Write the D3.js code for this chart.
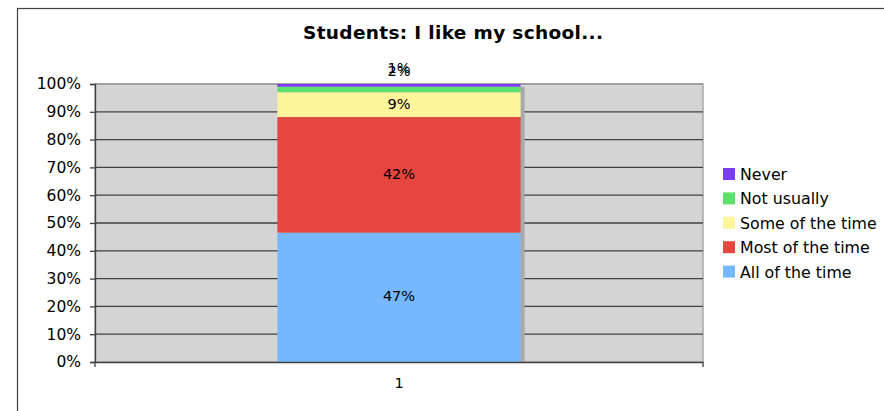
<!DOCTYPE html>
<html>
<head>
<meta charset="utf-8">
<script src="https://cdn.jsdelivr.net/npm/d3@7"></script>
<style>
  html, body { margin: 0; padding: 0; background: #fff; }
  svg { display: block; font-family: "DejaVu Sans", Verdana, sans-serif; }
</style>
</head>
<body>
<svg id="chart" width="884" height="411"></svg>
<script>
// Survey responses, one stacked 100% column
const categories = ["1"];
const seriesNames = ["All of the time", "Most of the time", "Some of the time", "Not usually", "Never"];
const seriesValues = [47, 42, 9, 2, 1];
const seriesColors = ["#75b8ff", "#e5463f", "#fdf59b", "#5de16a", "#7b3cf5"];
const yTicks = [0, 0.1, 0.2, 0.3, 0.4, 0.5, 0.6, 0.7, 0.8, 0.9, 1];

const svg = d3.select("#chart");

// outer chart frame
svg.append("rect")
  .attr("x", 17.5).attr("y", 8.5)
  .attr("width", 900).attr("height", 450)
  .attr("fill", "#fff").attr("stroke", "#404040").attr("stroke-width", 1.2);

svg.append("text")
  .attr("x", 453).attr("y", 39)
  .attr("text-anchor", "middle")
  .attr("font-size", 18.5).attr("font-weight", "bold")
  .attr("textLength", 300).attr("lengthAdjust", "spacing")
  .text("Students: I like my school...");

const plot = { left: 95, right: 703, top: 84, bottom: 362 };

const x = d3.scaleBand().domain(categories)
  .range([plot.left, plot.right]).paddingInner(0).paddingOuter(0.75);
const y = d3.scaleLinear().domain([0, 1]).range([plot.bottom, plot.top]);

// plot background
svg.append("rect")
  .attr("x", plot.left).attr("y", plot.top)
  .attr("width", plot.right - plot.left).attr("height", plot.bottom - plot.top)
  .attr("fill", "#d4d4d4").attr("stroke", "#a8a8a8").attr("stroke-width", 1.5);

// horizontal gridlines
svg.append("g").selectAll("line")
  .data(yTicks.slice(1))
  .join("line")
  .attr("x1", plot.left).attr("x2", plot.right)
  .attr("y1", d => y(d)).attr("y2", d => y(d))
  .attr("stroke", d => d === 1 ? "#9a9a9a" : "#404040").attr("stroke-width", 1.3);

// stacked, normalised data
const row = {};
seriesNames.forEach((n, i) => row[n] = seriesValues[i]);
const stack = d3.stack().keys(seriesNames).offset(d3.stackOffsetExpand);
const layers = stack([row]);

const bw = x.bandwidth();
const bx = x(categories[0]);

// drop shadow of the column
svg.append("rect")
  .attr("x", bx + 4).attr("y", y(1) + 3)
  .attr("width", bw).attr("height", plot.bottom - y(1) - 3)
  .attr("fill", "#a9a9a9");

svg.append("g").selectAll("rect")
  .data(layers)
  .join("rect")
  .attr("x", bx).attr("width", bw)
  .attr("y", d => y(d[0][1]))
  .attr("height", d => y(d[0][0]) - y(d[0][1]))
  .attr("fill", (d, i) => seriesColors[i]);

// value labels
const labelY = (d, i) => {
  if (i === 3) return 76;
  if (i === 4) return 73;
  return (y(d[0][0]) + y(d[0][1])) / 2 + 4;
};
svg.append("g").selectAll("text")
  .data(layers)
  .join("text")
  .attr("x", bx + bw / 2)
  .attr("y", labelY)
  .attr("text-anchor", "middle")
  .attr("font-size", 14.5).attr("fill", "#000")
  .text((d, i) => seriesValues[i] + "%");

// y axis
const yAxis = d3.axisLeft(y).tickValues(yTicks)
  .tickFormat(d3.format(".0%")).tickSize(5).tickPadding(9);
const ga = svg.append("g").attr("transform", `translate(${plot.left},0)`).call(yAxis);
ga.select(".domain").attr("stroke", "#404040").attr("stroke-width", 1.3);
ga.selectAll(".tick line").attr("stroke", "#404040").attr("stroke-width", 1.3);
ga.selectAll(".tick text").attr("font-size", 15.5).attr("fill", "#000")
  .attr("font-family", "DejaVu Sans, Verdana, sans-serif");

// x axis
const xAxis = d3.axisBottom(x).tickSize(0).tickPadding(16);
const gx = svg.append("g").attr("transform", `translate(0,${plot.bottom})`).call(xAxis);
gx.select(".domain").attr("stroke", "#404040").attr("stroke-width", 1.5);
gx.selectAll(".tick text").attr("font-size", 14.5).attr("fill", "#000")
  .attr("font-family", "DejaVu Sans, Verdana, sans-serif");
// end tick marks on the category axis
gx.append("g").selectAll("line")
  .data([plot.left, plot.right])
  .join("line")
  .attr("x1", d => d).attr("x2", d => d)
  .attr("y1", 0).attr("y2", 5)
  .attr("stroke", "#404040").attr("stroke-width", 1.3);

// legend (reverse order, top to bottom)
const legendOrder = seriesNames.map((n, i) => i).reverse();
const lg = svg.append("g").attr("transform", "translate(723,168)");
const items = lg.selectAll("g")
  .data(legendOrder)
  .join("g")
  .attr("transform", (d, k) => `translate(0,${k * 24.4})`);
items.append("rect")
  .attr("width", 12).attr("height", 12)
  .attr("fill", i => seriesColors[i]);
items.append("text")
  .attr("x", 17).attr("y", 12)
  .attr("font-size", 15.8).attr("fill", "#000")
  .text(i => seriesNames[i]);
</script>
</body>
</html>
